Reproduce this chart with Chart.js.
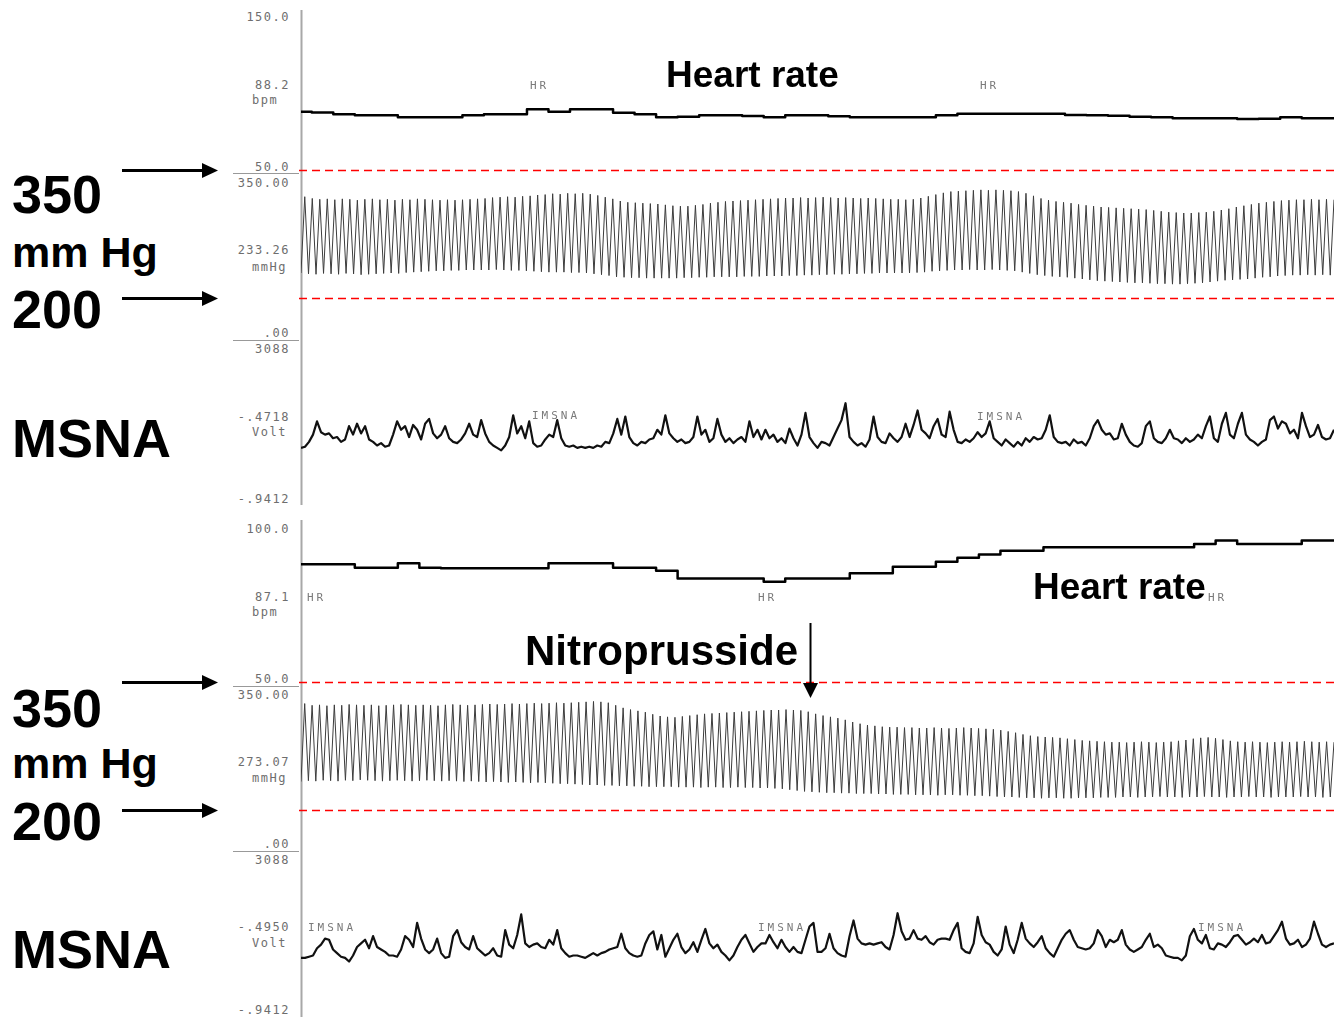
<!DOCTYPE html>
<html>
<head>
<meta charset="utf-8">
<title>HR, BP and MSNA recording</title>
<script src="https://cdn.jsdelivr.net/npm/chart.js"></script>
<style>
  body { margin: 0; width: 1334px; height: 1017px; background: #fff; position: relative; overflow: hidden;
         font-family: "Liberation Sans", Arial, sans-serif; }
  svg.overlay { position: absolute; left: 0; top: 0; }
  canvas.trace { position: absolute; left: 301px; }
  .big { position: absolute; font-weight: bold; color: #000; line-height: 1; white-space: nowrap; }
  .dev { position: absolute; font-family: "DejaVu Sans Mono", monospace; font-size: 12px; line-height: 12px;
         color: #6e6e6e; letter-spacing: 1.5px; white-space: nowrap; }
  .dev.r { text-align: right; width: 80px; left: 210px; }
  .tag { position: absolute; font-family: "DejaVu Sans Mono", monospace; font-size: 11px; line-height: 11px;
         color: #7a7a7a; letter-spacing: 3px; white-space: nowrap; }
</style>
</head>
<body>

<svg class="overlay" width="1334" height="1017">
  <!-- recorder axis -->
  <line x1="301.5" y1="10" x2="301.5" y2="505" stroke="#a8a8a8" stroke-width="2"/>
  <line x1="301.5" y1="520" x2="301.5" y2="1017" stroke="#a8a8a8" stroke-width="2"/>
  <line x1="233" y1="173.5" x2="299" y2="173.5" stroke="#999" stroke-width="1"/>
  <line x1="233" y1="340.5" x2="299" y2="340.5" stroke="#999" stroke-width="1"/>
  <line x1="233" y1="686.5" x2="299" y2="686.5" stroke="#999" stroke-width="1"/>
  <line x1="233" y1="851.5" x2="299" y2="851.5" stroke="#999" stroke-width="1"/>
  <!-- red reference lines -->
  <g stroke="#ff0000" stroke-width="1.5" stroke-dasharray="8 5">
    <line x1="299" y1="170.5" x2="1334" y2="170.5"/>
    <line x1="299" y1="298.5" x2="1334" y2="298.5"/>
    <line x1="299" y1="682.5" x2="1334" y2="682.5"/>
    <line x1="299" y1="810.5" x2="1334" y2="810.5"/>
  </g>
  <!-- arrows -->
  <g stroke="#000" stroke-width="3">
    <line x1="122" y1="170.5" x2="204" y2="170.5"/>
    <line x1="122" y1="298.5" x2="204" y2="298.5"/>
    <line x1="122" y1="682.5" x2="204" y2="682.5"/>
    <line x1="122" y1="810.5" x2="204" y2="810.5"/>
  </g>
  <g fill="#000">
    <polygon points="202,163 218,170.5 202,178"/>
    <polygon points="202,291 218,298.5 202,306"/>
    <polygon points="202,675 218,682.5 202,690"/>
    <polygon points="202,803 218,810.5 202,818"/>
    <polygon points="803,683 810.5,698 818,683"/>
  </g>
  <line x1="810.5" y1="623" x2="810.5" y2="686" stroke="#000" stroke-width="2"/>
</svg>

<canvas class="trace" id="hr1" width="1033" height="153" style="top:17px"></canvas>
<canvas class="trace" id="bp1" width="1033" height="150" style="top:183px"></canvas>
<canvas class="trace" id="msna1" width="1033" height="151" style="top:349px"></canvas>
<canvas class="trace" id="hr2" width="1033" height="154" style="top:527px"></canvas>
<canvas class="trace" id="bp2" width="1033" height="150" style="top:695px"></canvas>
<canvas class="trace" id="msna2" width="1033" height="151" style="top:859px"></canvas>

<!-- presenter labels -->
<div class="big" style="left:12px; top:167px; font-size:54px">350</div>
<div class="big" style="left:12px; top:231px; font-size:43px">mm Hg</div>
<div class="big" style="left:12px; top:282px; font-size:54px">200</div>
<div class="big" style="left:12px; top:411px; font-size:54px">MSNA</div>
<div class="big" style="left:12px; top:681px; font-size:54px">350</div>
<div class="big" style="left:12px; top:742px; font-size:43px">mm Hg</div>
<div class="big" style="left:12px; top:794px; font-size:54px">200</div>
<div class="big" style="left:12px; top:922px; font-size:54px">MSNA</div>
<div class="big" style="left:666px; top:56px; font-size:37px">Heart rate</div>
<div class="big" style="left:1033px; top:568px; font-size:37px">Heart rate</div>
<div class="big" style="left:525px; top:630px; font-size:42px">Nitroprusside</div>

<!-- recorder scale labels -->
<div class="dev r" style="top:11px">150.0</div>
<div class="dev r" style="top:79px">88.2</div>
<div class="dev" style="left:252px; top:94px">bpm</div>
<div class="dev r" style="top:161px">50.0</div>
<div class="dev r" style="top:177px">350.00</div>
<div class="dev r" style="top:244px">233.26</div>
<div class="dev" style="left:252px; top:261px">mmHg</div>
<div class="dev r" style="top:327px">.00</div>
<div class="dev r" style="top:343px">3088</div>
<div class="dev r" style="top:411px">-.4718</div>
<div class="dev" style="left:252px; top:426px">Volt</div>
<div class="dev r" style="top:493px">-.9412</div>

<div class="dev r" style="top:523px">100.0</div>
<div class="dev r" style="top:591px">87.1</div>
<div class="dev" style="left:252px; top:606px">bpm</div>
<div class="dev r" style="top:673px">50.0</div>
<div class="dev r" style="top:689px">350.00</div>
<div class="dev r" style="top:756px">273.07</div>
<div class="dev" style="left:252px; top:772px">mmHg</div>
<div class="dev r" style="top:838px">.00</div>
<div class="dev r" style="top:854px">3088</div>
<div class="dev r" style="top:921px">-.4950</div>
<div class="dev" style="left:252px; top:937px">Volt</div>
<div class="dev r" style="top:1004px">-.9412</div>

<!-- channel tags -->
<div class="tag" style="left:530px; top:80px">HR</div>
<div class="tag" style="left:980px; top:80px">HR</div>
<div class="tag" style="left:532px; top:410px">IMSNA</div>
<div class="tag" style="left:977px; top:411px">IMSNA</div>
<div class="tag" style="left:307px; top:592px">HR</div>
<div class="tag" style="left:758px; top:592px">HR</div>
<div class="tag" style="left:1208px; top:592px">HR</div>
<div class="tag" style="left:308px; top:922px">IMSNA</div>
<div class="tag" style="left:758px; top:922px">IMSNA</div>
<div class="tag" style="left:1198px; top:922px">IMSNA</div>

<script>
// Heart rate (bpm), sampled evenly across the sweep
const hr1 = [88.1, 87.6, 86.4, 85.8, 85.8, 84.4, 84.4, 84.4, 85.8, 86.4,
  86.4, 89.7, 88.1, 89.7, 89.7, 87.5, 86.4, 84.4, 84.8, 85.8,
  85.8, 85.3, 84.4, 85.8, 85.8, 85.1, 84.4, 84.4, 84.4, 84.4,
  85.8, 86.8, 86.8, 86.8, 86.8, 86.8, 85.9, 85.8, 85.5, 84.8,
  84.4, 83.8, 83.8, 83.8, 83.3, 83.5, 84.4, 83.8, 83.8];
const hr2 = [87.9, 87.9, 87.9, 86.8, 86.8, 88.2, 86.8, 86.6, 86.6, 86.6,
  86.6, 86.6, 88.2, 88.2, 88.2, 86.8, 86.8, 85.8, 83.3, 83.3,
  83.3, 83.3, 82.2, 83.3, 83.3, 83.3, 85.0, 85.0, 87.1, 87.1,
  88.7, 90.0, 91.1, 92.3, 92.3, 93.4, 93.4, 93.4, 93.4, 93.4,
  93.4, 93.4, 94.5, 95.6, 94.5, 94.5, 94.5, 95.6, 95.6];

// Blood pressure (recorder mmHg), one value per beat
const bpSys1 = [318, 314, 312, 313, 311, 313, 312, 310, 312, 313, 311, 312, 310, 312, 311, 313, 312, 311, 310, 311,
  310, 311, 312, 313, 314,
  316, 317, 318, 317, 319, 320,
  322, 323, 325, 324, 326, 325, 326, 324, 321,
  317, 313,
  308, 305, 304, 303, 302, 301, 299,
  297, 296, 296, 298, 300,
  303, 305, 307, 308, 309, 310,
  311, 312, 313, 314, 315, 315, 316, 315, 316, 317, 316, 315, 316, 315, 314, 315, 314, 313, 312, 312,
  311, 312, 315, 319, 323, 327,
  330, 331, 332, 333, 334, 333, 334, 333, 332, 330, 326, 320, 314,
  310, 307, 305, 303, 300, 298, 296,
  294, 293, 292, 291, 290, 289, 288, 286, 284,
  282, 281, 280, 280, 281, 282, 284, 287, 290,
  294, 297, 300, 303, 305, 307, 309,
  310, 311, 311, 312, 311, 312, 311];
const bpDia1 = [140, 138, 137, 139, 138, 137, 139, 138, 136, 137, 138, 139, 140, 139, 141, 142, 143, 144, 145, 145,
  146, 146, 147, 147, 147,
  147, 148, 147, 146, 146, 145,
  144, 143, 142, 142, 142, 141, 141, 140, 138,
  136, 134,
  131, 130, 129, 129, 128, 128, 128,
  128, 128, 129, 129, 130,
  130, 131, 131, 131, 131, 132,
  132, 132, 133, 133, 133, 134, 134, 135, 135, 136, 136, 137, 137, 138, 138, 139, 139, 140, 140, 140,
  140, 140, 141, 142, 144, 145,
  146, 147, 147, 148, 147, 147, 148, 147, 146, 145, 142, 139, 136,
  134, 132, 131, 130, 128, 126, 124,
  122, 121, 120, 119, 118, 117, 117, 116, 115,
  115, 114, 114, 115, 116, 117, 119, 121, 123,
  124, 125, 126, 128, 130, 131, 133,
  134, 135, 135, 136, 135, 136, 135];
const bpSys2 = [330, 326, 327, 325, 327, 326, 328, 327, 326, 327, 325, 326, 327, 328, 327, 326, 327, 326, 325, 327,
  328, 327, 326, 327, 328, 329, 328, 329, 330, 329, 330, 331, 330, 331, 332, 331, 332, 333,
  334, 335, 334, 332,
  326, 320, 316, 313, 310,
  305, 301, 299, 298, 300,
  302, 304, 306, 307, 308, 309, 310,
  311, 312, 313, 314, 315, 315, 316, 315, 314, 311,
  306, 302, 299, 296, 292, 287,
  283, 280, 278, 276, 275, 275, 274,
  274, 273, 273, 274, 273, 272, 273, 274, 273, 272, 271, 270, 268, 265, 262, 258,
  255, 253, 252, 251, 250, 248,
  246, 244, 243, 242, 241, 240, 240, 239, 240, 241, 240, 239, 240, 241, 243, 245,
  248, 250, 251, 249, 246,
  243, 241, 240, 241, 240, 239, 240, 241, 240, 241, 242, 241, 240, 241, 240];
const bpDia2 = [148, 150, 149, 151, 150, 149, 151, 150, 152, 151, 150, 149, 150, 151, 150, 149, 150, 151, 150, 149,
  150, 149, 148, 149, 148, 147, 148, 147, 146, 147, 146, 145, 146, 145, 144, 143, 143, 142, 141,
  140, 140, 139, 139, 138, 138, 137, 137, 136, 136, 136,
  136, 135, 135, 135, 134, 135, 135, 134, 134, 135, 134, 134, 133, 133, 132, 131, 129, 127,
  125, 124, 123, 122, 122, 121, 121, 120, 120, 120, 119, 119, 118, 118,
  118, 117, 117, 117, 116, 117, 117, 116, 116, 115, 115, 114, 113, 112, 112,
  111, 110, 110, 109, 110, 110, 109, 109, 110, 110, 110, 111, 111, 111,
  112, 112, 111, 112, 112, 113, 112, 112, 111, 112, 112, 113, 112, 112, 111, 112, 112, 113, 112, 112,
  111, 112, 112, 112, 113, 112, 112, 111, 112];

// Integrated MSNA (volts), sampled evenly across the sweep
const msna1 = [-0.51, -0.50, -0.46, -0.40, -0.29, -0.38, -0.40, -0.39, -0.43, -0.42,
  -0.46, -0.44, -0.33, -0.40, -0.31, -0.39, -0.33, -0.44, -0.46, -0.49,
  -0.47, -0.50, -0.49, -0.40, -0.29, -0.36, -0.33, -0.42, -0.32, -0.36,
  -0.44, -0.31, -0.27, -0.39, -0.43, -0.40, -0.33, -0.43, -0.46, -0.47,
  -0.44, -0.39, -0.31, -0.40, -0.42, -0.28, -0.39, -0.46, -0.49, -0.51,
  -0.53, -0.49, -0.42, -0.24, -0.39, -0.33, -0.43, -0.29, -0.47, -0.50,
  -0.49, -0.44, -0.40, -0.42, -0.28, -0.43, -0.49, -0.50, -0.49, -0.51,
  -0.50, -0.51, -0.50, -0.51, -0.49, -0.50, -0.46, -0.47, -0.39, -0.27,
  -0.40, -0.25, -0.42, -0.47, -0.49, -0.46, -0.47, -0.44, -0.43, -0.36,
  -0.40, -0.24, -0.39, -0.43, -0.46, -0.44, -0.47, -0.46, -0.42, -0.25,
  -0.40, -0.36, -0.46, -0.43, -0.27, -0.40, -0.46, -0.43, -0.47, -0.44,
  -0.42, -0.46, -0.29, -0.42, -0.36, -0.44, -0.36, -0.43, -0.40, -0.46,
  -0.43, -0.47, -0.35, -0.43, -0.49, -0.40, -0.22, -0.42, -0.47, -0.51,
  -0.46, -0.47, -0.49, -0.42, -0.35, -0.28, -0.14, -0.42, -0.46, -0.49,
  -0.47, -0.50, -0.44, -0.25, -0.42, -0.46, -0.47, -0.39, -0.43, -0.46,
  -0.42, -0.31, -0.42, -0.32, -0.20, -0.36, -0.39, -0.43, -0.33, -0.27,
  -0.40, -0.42, -0.21, -0.36, -0.46, -0.47, -0.44, -0.46, -0.43, -0.38,
  -0.42, -0.39, -0.29, -0.43, -0.46, -0.49, -0.44, -0.47, -0.50, -0.46,
  -0.49, -0.43, -0.46, -0.42, -0.44, -0.43, -0.36, -0.24, -0.42, -0.46,
  -0.47, -0.46, -0.49, -0.44, -0.47, -0.46, -0.49, -0.43, -0.33, -0.28,
  -0.36, -0.40, -0.39, -0.44, -0.43, -0.31, -0.40, -0.46, -0.49, -0.50,
  -0.47, -0.33, -0.29, -0.43, -0.46, -0.47, -0.43, -0.36, -0.43, -0.44,
  -0.47, -0.43, -0.46, -0.44, -0.40, -0.43, -0.33, -0.25, -0.43, -0.46,
  -0.31, -0.22, -0.40, -0.43, -0.31, -0.22, -0.40, -0.44, -0.46, -0.49,
  -0.46, -0.44, -0.28, -0.25, -0.35, -0.29, -0.31, -0.39, -0.36, -0.43,
  -0.22, -0.33, -0.42, -0.40, -0.32, -0.42, -0.44, -0.43, -0.36];
const msna2 = [-0.51, -0.51, -0.50, -0.49, -0.43, -0.40, -0.35, -0.36, -0.44, -0.47,
  -0.50, -0.51, -0.54, -0.49, -0.42, -0.39, -0.36, -0.43, -0.33, -0.42,
  -0.44, -0.46, -0.49, -0.49, -0.50, -0.44, -0.33, -0.36, -0.42, -0.22,
  -0.35, -0.44, -0.47, -0.44, -0.35, -0.47, -0.51, -0.50, -0.33, -0.28,
  -0.38, -0.42, -0.44, -0.33, -0.43, -0.46, -0.49, -0.47, -0.43, -0.49,
  -0.50, -0.28, -0.40, -0.43, -0.32, -0.15, -0.39, -0.42, -0.40, -0.39,
  -0.42, -0.43, -0.36, -0.40, -0.28, -0.43, -0.47, -0.50, -0.49, -0.49,
  -0.50, -0.51, -0.49, -0.47, -0.49, -0.47, -0.46, -0.44, -0.43, -0.42,
  -0.31, -0.43, -0.47, -0.49, -0.50, -0.49, -0.39, -0.32, -0.29, -0.44,
  -0.32, -0.50, -0.43, -0.36, -0.31, -0.42, -0.47, -0.44, -0.38, -0.46,
  -0.36, -0.27, -0.39, -0.43, -0.40, -0.46, -0.49, -0.53, -0.49, -0.42,
  -0.36, -0.32, -0.39, -0.46, -0.42, -0.39, -0.39, -0.32, -0.38, -0.43,
  -0.36, -0.42, -0.46, -0.42, -0.46, -0.47, -0.36, -0.25, -0.22, -0.46,
  -0.46, -0.43, -0.31, -0.43, -0.47, -0.49, -0.50, -0.33, -0.20, -0.35,
  -0.39, -0.40, -0.39, -0.40, -0.39, -0.38, -0.42, -0.44, -0.32, -0.14,
  -0.29, -0.36, -0.35, -0.28, -0.35, -0.36, -0.33, -0.38, -0.40, -0.36,
  -0.35, -0.35, -0.36, -0.28, -0.22, -0.43, -0.46, -0.47, -0.39, -0.17,
  -0.32, -0.38, -0.40, -0.46, -0.49, -0.44, -0.25, -0.40, -0.47, -0.36,
  -0.22, -0.35, -0.39, -0.42, -0.38, -0.33, -0.43, -0.47, -0.50, -0.43,
  -0.36, -0.31, -0.28, -0.36, -0.42, -0.43, -0.44, -0.43, -0.39, -0.28,
  -0.33, -0.42, -0.36, -0.38, -0.36, -0.28, -0.40, -0.44, -0.46, -0.44,
  -0.42, -0.36, -0.31, -0.42, -0.40, -0.43, -0.49, -0.50, -0.51, -0.51,
  -0.53, -0.49, -0.33, -0.27, -0.36, -0.39, -0.32, -0.43, -0.44, -0.39,
  -0.40, -0.42, -0.38, -0.33, -0.32, -0.36, -0.40, -0.38, -0.35, -0.38,
  -0.32, -0.39, -0.38, -0.33, -0.28, -0.21, -0.35, -0.40, -0.39, -0.36,
  -0.42, -0.40, -0.35, -0.21, -0.31, -0.40, -0.42, -0.40, -0.39];

// recorder scale of each channel (bottom, top of its strip)
const hrRange1 = [50, 150];
const hrRange2 = [50, 100];
const bpRange = [0, 350];
const msnaRange = [-0.9412, 0.3088];

// pressure trace: trough then peak for every beat
function pulseWave(sys, dia) {
    const out = [];
    sys.forEach((s, i) => { out.push(dia[i], s); });
    return out;
}

function traceChart(id, values, range, color, width, stepped) {
    const ctx = document.getElementById(id).getContext('2d');
    return new Chart(ctx, {
        type: 'line',
        data: {
            labels: values.map((_, i) => i),
            datasets: [{
                data: values,
                borderColor: color,
                borderWidth: width,
                borderJoinStyle: 'round',
                pointRadius: 0,
                tension: 0,
                stepped: stepped || false,
                clip: false
            }]
        },
        options: {
            responsive: false,
            animation: false,
            devicePixelRatio: 1,
            events: [],
            layout: { padding: 0 },
            plugins: {
                legend: { display: false },
                tooltip: { enabled: false }
            },
            scales: {
                x: { display: false, offset: false },
                y: { display: false, min: range[0], max: range[1] }
            }
        }
    });
}

traceChart('hr1', hr1, hrRange1, '#000', 2.5, 'middle');
traceChart('bp1', pulseWave(bpSys1, bpDia1), bpRange, '#3c3c3c', 1);
traceChart('msna1', msna1, msnaRange, '#111', 2.2);
traceChart('hr2', hr2, hrRange2, '#000', 2.5, 'middle');
traceChart('bp2', pulseWave(bpSys2, bpDia2), bpRange, '#3c3c3c', 1);
traceChart('msna2', msna2, msnaRange, '#111', 2.2);
</script>
</body>
</html>
